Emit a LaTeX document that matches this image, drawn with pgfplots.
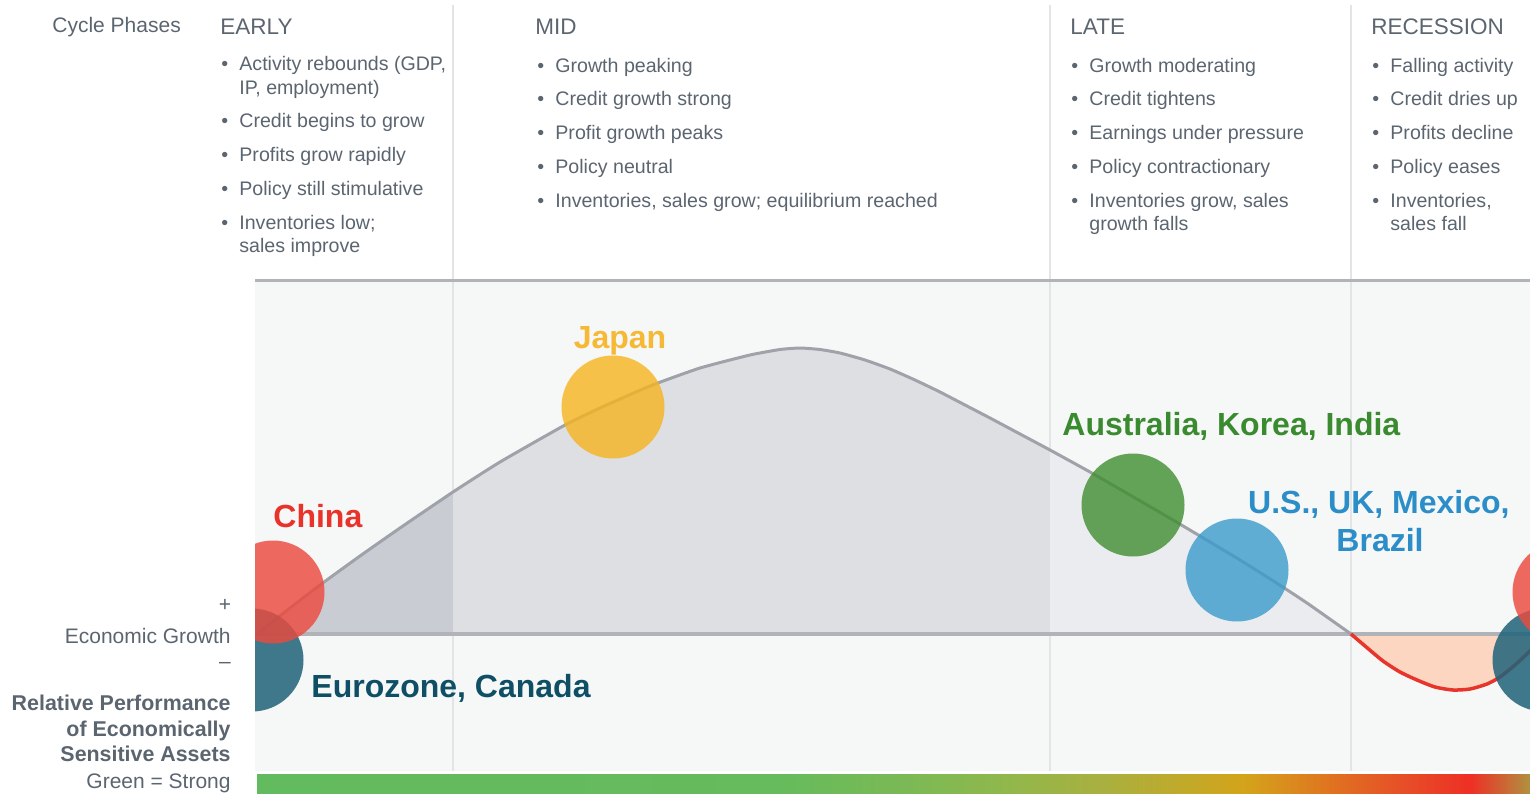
\documentclass[border=0pt]{standalone}
\usepackage{fontspec}
\setmainfont{Liberation Sans}
\usepackage{pgfplots}
\pgfplotsset{compat=1.18}
\definecolor{txt}{HTML}{5B6570}
\definecolor{sep}{HTML}{E2E4E6}
\definecolor{panel}{HTML}{F6F7F7}
\definecolor{fearly}{HTML}{C9CCD3}
\definecolor{fmid}{HTML}{DEDFE3}
\definecolor{flate}{HTML}{EBECEF}
\definecolor{fdip}{HTML}{FDD6C2}
\definecolor{curve}{HTML}{9FA2A9}
\definecolor{base}{HTML}{B0B3B8}
\definecolor{redl}{HTML}{E8352B}
\definecolor{cChina}{HTML}{EC4A3F}
\definecolor{cEuro}{HTML}{1F6279}
\definecolor{cJapan}{HTML}{F5B41E}
\definecolor{cAus}{HTML}{3F8E30}
\definecolor{cUS}{HTML}{3A9BCB}
\definecolor{lChina}{HTML}{E8322A}
\definecolor{lEuro}{HTML}{0E4F66}
\definecolor{lJapan}{HTML}{F6B936}
\definecolor{lAus}{HTML}{3A8B2F}
\definecolor{lUS}{HTML}{2C8EC8}
\definecolor{g0}{HTML}{62BB5E}
\definecolor{g1}{HTML}{66BB5C}
\definecolor{g2}{HTML}{7AB955}
\definecolor{g3}{HTML}{8FB84C}
\definecolor{g4}{HTML}{A8B040}
\definecolor{g5}{HTML}{C6A826}
\definecolor{g6}{HTML}{D4A31A}
\definecolor{g7}{HTML}{DA8A1E}
\definecolor{g8}{HTML}{E07020}
\definecolor{g9}{HTML}{E65028}
\definecolor{g10}{HTML}{EE2F25}
\definecolor{g11}{HTML}{B0913F}
\newcommand{\bodyf}{\fontsize{9.8}{12}\selectfont}
\newcommand{\headf}{\fontsize{11.25}{13}\selectfont}
\newcommand{\leftf}{\fontsize{10.5}{12.5}\selectfont}
\newcommand{\leftb}{\fontsize{10.7}{12.5}\selectfont\bfseries}
\newcommand{\ctryf}{\fontsize{16}{18}\selectfont\bfseries}
\tikzset{bt/.style={anchor=base west, inner sep=0pt, font=\bodyf, text=txt}}
\pgfplotstableread{
x y
257 634
290 608
320 585
360 556
400 528
453 492
500 462
565 425
600 408
650 386
700 368
750 355
780 349.5
800 348
820 349.5
840 353
865 360
890 369
915 380
940 392
965 405
990 418
1020 434
1050 450
1090 472
1130 495
1173 520
1210 542
1240 560
1275 582
1307 603
1351 634
}\cycledata
\pgfplotstableread{
x y
1351 634
1365 646
1383 661
1400 672
1417 680
1435 687
1453 690
1470 689
1487 684
1500 677
1515 665
1530 651
1545 637
}\dipdata
\begin{document}
\begin{tikzpicture}
\begin{axis}[at={(0,0)}, anchor=south west, scale only axis,
  width=765pt, height=396.5pt, xmin=0, xmax=1530, ymin=0, ymax=793,
  y dir=reverse, hide axis, clip=false]
% separators (top area)
\addplot[sep, line width=1pt] coordinates {(453,5) (453,280)};
\addplot[sep, line width=1pt] coordinates {(1050,5) (1050,280)};
\addplot[sep, line width=1pt] coordinates {(1351,5) (1351,280)};
% gradient bar
\addplot[draw=none, left color=g0, right color=g1] coordinates {(257,774) (781,774) (781,793) (257,793)} -- cycle;
\addplot[draw=none, left color=g1, right color=g2] coordinates {(780,774) (901,774) (901,793) (780,793)} -- cycle;
\addplot[draw=none, left color=g2, right color=g3] coordinates {(900,774) (1001,774) (1001,793) (900,793)} -- cycle;
\addplot[draw=none, left color=g3, right color=g4] coordinates {(1000,774) (1101,774) (1101,793) (1000,793)} -- cycle;
\addplot[draw=none, left color=g4, right color=g5] coordinates {(1100,774) (1201,774) (1201,793) (1100,793)} -- cycle;
\addplot[draw=none, left color=g5, right color=g6] coordinates {(1200,774) (1246,774) (1246,793) (1200,793)} -- cycle;
\addplot[draw=none, left color=g6, right color=g7] coordinates {(1245,774) (1291,774) (1291,793) (1245,793)} -- cycle;
\addplot[draw=none, left color=g7, right color=g8] coordinates {(1290,774) (1336,774) (1336,793) (1290,793)} -- cycle;
\addplot[draw=none, left color=g8, right color=g9] coordinates {(1335,774) (1401,774) (1401,793) (1335,793)} -- cycle;
\addplot[draw=none, left color=g9, right color=g10] coordinates {(1400,774) (1471,774) (1471,793) (1400,793)} -- cycle;
\addplot[draw=none, left color=g10, right color=g11] coordinates {(1470,774) (1530,774) (1530,793) (1470,793)} -- cycle;
% header texts
\node[anchor=base west, inner sep=0pt, font=\leftf, text=txt] at (axis cs:52,32) {Cycle Phases};
\node[anchor=base west, inner sep=0pt, font=\headf, text=txt] at (axis cs:220,34) {EARLY};
\node[anchor=base west, inner sep=0pt, font=\headf, text=txt] at (axis cs:535,34) {MID};
\node[anchor=base west, inner sep=0pt, font=\headf, text=txt] at (axis cs:1070,34) {LATE};
\node[anchor=base west, inner sep=0pt, font=\headf, text=txt] at (axis cs:1371,34) {RECESSION};
% EARLY
\node[bt] at (axis cs:221,70) {•};
\node[bt] at (axis cs:221,127) {•};
\node[bt] at (axis cs:221,161) {•};
\node[bt] at (axis cs:221,195) {•};
\node[bt] at (axis cs:221,229) {•};
\node[bt] at (axis cs:239,70) {Activity rebounds (GDP,};
\node[bt] at (axis cs:239,94) {IP, employment)};
\node[bt] at (axis cs:239,127) {Credit begins to grow};
\node[bt] at (axis cs:239,161) {Profits grow rapidly};
\node[bt] at (axis cs:239,195) {Policy still stimulative};
\node[bt] at (axis cs:239,229) {Inventories low;};
\node[bt] at (axis cs:239,252) {sales improve};
% MID
\node[bt] at (axis cs:537,72) {•};
\node[bt] at (axis cs:537,105) {•};
\node[bt] at (axis cs:537,139) {•};
\node[bt] at (axis cs:537,173) {•};
\node[bt] at (axis cs:537,207) {•};
\node[bt] at (axis cs:555,72) {Growth peaking};
\node[bt] at (axis cs:555,105) {Credit growth strong};
\node[bt] at (axis cs:555,139) {Profit growth peaks};
\node[bt] at (axis cs:555,173) {Policy neutral};
\node[bt] at (axis cs:555,207) {Inventories, sales grow; equilibrium reached};
% LATE
\node[bt] at (axis cs:1071,72) {•};
\node[bt] at (axis cs:1071,105) {•};
\node[bt] at (axis cs:1071,139) {•};
\node[bt] at (axis cs:1071,173) {•};
\node[bt] at (axis cs:1071,207) {•};
\node[bt] at (axis cs:1089,72) {Growth moderating};
\node[bt] at (axis cs:1089,105) {Credit tightens};
\node[bt] at (axis cs:1089,139) {Earnings under pressure};
\node[bt] at (axis cs:1089,173) {Policy contractionary};
\node[bt] at (axis cs:1089,207) {Inventories grow, sales};
\node[bt] at (axis cs:1089,230) {growth falls};
% RECESSION
\node[bt] at (axis cs:1372,72) {•};
\node[bt] at (axis cs:1372,105) {•};
\node[bt] at (axis cs:1372,139) {•};
\node[bt] at (axis cs:1372,173) {•};
\node[bt] at (axis cs:1372,207) {•};
\node[bt] at (axis cs:1390,72) {Falling activity};
\node[bt] at (axis cs:1390,105) {Credit dries up};
\node[bt] at (axis cs:1390,139) {Profits decline};
\node[bt] at (axis cs:1390,173) {Policy eases};
\node[bt] at (axis cs:1390,207) {Inventories,};
\node[bt] at (axis cs:1390,230) {sales fall};
% left labels
\node[anchor=center, inner sep=0pt, font=\leftf, text=txt] at (axis cs:225,605) {+};
\node[anchor=base east, inner sep=0pt, font=\leftf, text=txt] at (axis cs:231,643) {Economic Growth};
\node[anchor=center, inner sep=0pt, font=\leftf, text=txt] at (axis cs:225,665) {–};
\node[anchor=base east, inner sep=0pt, font=\leftb, text=txt] at (axis cs:231,710) {Relative Performance};
\node[anchor=base east, inner sep=0pt, font=\leftb, text=txt] at (axis cs:231,736) {of Economically};
\node[anchor=base east, inner sep=0pt, font=\leftb, text=txt] at (axis cs:231,761) {Sensitive Assets};
\node[anchor=base east, inner sep=0pt, font=\leftf, text=txt] at (axis cs:231,788) {Green = Strong};
\end{axis}

\begin{axis}[at={(125pt,11pt)}, anchor=south west, scale only axis,
  width=660pt, height=246.5pt, xmin=250, xmax=1570, ymin=278, ymax=771,
  y dir=reverse, hide axis, clip=true, clip marker paths=true]
% panel background
\addplot[fill=panel, draw=none] coordinates {(255,282) (1570,282) (1570,771) (255,771)} -- cycle;
% separators
\addplot[sep, line width=1pt] coordinates {(453,278) (453,771)};
\addplot[sep, line width=1pt] coordinates {(1050,278) (1050,771)};
\addplot[sep, line width=1pt] coordinates {(1351,278) (1351,771)};
% phase fills
\addplot[fill=fearly, draw=none] table[x=x,y=y, restrict x to domain=257:453] {\cycledata} -- (axis cs:453,634) -- cycle;
\addplot[fill=fmid, draw=none] table[x=x,y=y, restrict x to domain=453:1050] {\cycledata} -- (axis cs:1050,634) -- (axis cs:453,634) -- cycle;
\addplot[fill=flate, draw=none] table[x=x,y=y, restrict x to domain=1050:1351] {\cycledata} -- (axis cs:1050,634) -- cycle;
\addplot[fill=fdip, draw=none] table[x=x,y=y] {\dipdata} -- (axis cs:1545,634) -- cycle;
% baseline and top line
\addplot[base, line width=2pt] coordinates {(255,634) (1570,634)};
\addplot[base, line width=1.5pt] coordinates {(255,280) (1570,280)};
% cycle curve
\addplot[curve, line width=1.5pt, smooth, tension=0.3] table[x=x,y=y] {\cycledata};
\addplot[redl, line width=1.75pt, smooth, tension=0.4] table[x=x,y=y] {\dipdata};
% country circles
\addplot[cEuro, only marks, mark=*, mark size=25.75pt, mark options={fill=cEuro, fill opacity=0.85, draw opacity=0}] coordinates {(252,660) (1544,660)};
\addplot[cChina, only marks, mark=*, mark size=25.75pt, mark options={fill=cChina, fill opacity=0.82, draw opacity=0}] coordinates {(273,592) (1564,592)};
\addplot[cJapan, only marks, mark=*, mark size=25.75pt, mark options={fill=cJapan, fill opacity=0.8, draw opacity=0}] coordinates {(613,407)};
\addplot[cAus, only marks, mark=*, mark size=25.75pt, mark options={fill=cAus, fill opacity=0.8, draw opacity=0}] coordinates {(1133,505)};
\addplot[cUS, only marks, mark=*, mark size=25.75pt, mark options={fill=cUS, fill opacity=0.8, draw opacity=0}] coordinates {(1237,570)};
% white strip left of the panel
\addplot[fill=white, draw=none] coordinates {(240,270) (255,270) (255,780) (240,780)} -- cycle;
% country labels
\node[anchor=base, inner sep=0pt, font=\ctryf, text=lJapan] at (axis cs:620,348) {Japan};
\node[anchor=base west, inner sep=0pt, font=\ctryf, text=lChina] at (axis cs:273,527) {China};
\node[anchor=base west, inner sep=0pt, font=\ctryf, text=lAus] at (axis cs:1062,435) {Australia, Korea, India};
\node[anchor=base east, inner sep=0pt, font=\ctryf, text=lUS] at (axis cs:1510,513) {U.S., UK, Mexico,};
\node[anchor=base, inner sep=0pt, font=\ctryf, text=lUS] at (axis cs:1380,551) {Brazil};
\node[anchor=base west, inner sep=0pt, font=\ctryf, text=lEuro] at (axis cs:311,697) {Eurozone, Canada};
\end{axis}
\pgfresetboundingbox
\path (0,0) rectangle (765pt,396.5pt);
\end{tikzpicture}
\end{document}
